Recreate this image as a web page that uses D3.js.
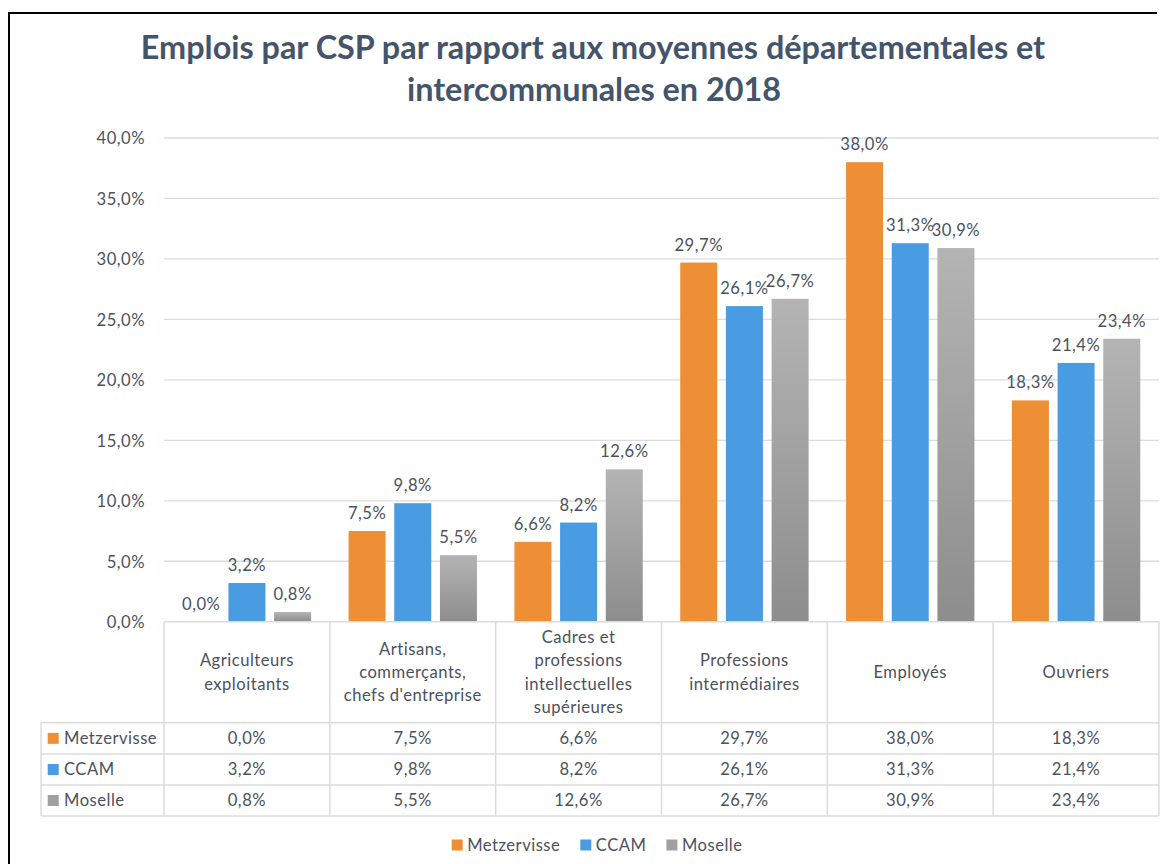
<!DOCTYPE html>
<html><head><meta charset="utf-8">
<script src="https://cdn.jsdelivr.net/npm/d3@7/dist/d3.min.js"></script>
<style>
html,body{margin:0;padding:0;background:#fff;}
svg{display:block;font-family:Lato,"Open Sans",sans-serif;}
</style></head>
<body><svg id="chart" width="1162" height="864"></svg>
<script>
const title = ["Emplois par CSP par rapport aux moyennes départementales et", "intercommunales en 2018"];
const categories = ["Agriculteurs\nexploitants", "Artisans,\ncommerçants,\nchefs d'entreprise", "Cadres et\nprofessions\nintellectuelles\nsupérieures", "Professions\nintermédiaires", "Employés", "Ouvriers"];
const seriesNames = ["Metzervisse", "CCAM", "Moselle"];
const metzervisse = [0.0, 7.5, 6.6, 29.7, 38.0, 18.3];
const ccam = [3.2, 9.8, 8.2, 26.1, 31.3, 21.4];
const moselle = [0.8, 5.5, 12.6, 26.7, 30.9, 23.4];
const yTicks = [0, 5, 10, 15, 20, 25, 30, 35, 40];

const seriesValues = [metzervisse, ccam, moselle];
const colors = ["#EE8F35", "#4A9CE2", "url(#greyGrad)"];
const swatch = ["#EE8F35", "#4A9CE2", "#A0A0A0"];
const textCol = "#4a525e";
const fsz = 16.6;
const ls = 0.5;

const loc = d3.formatLocale({decimal: ",", thousands: " ", grouping: [3], currency: ["", "€"]});
const fmt = v => loc.format(".1f")(v) + "%";

const svg = d3.select("#chart");
const defs = svg.append("defs");
const gr = defs.append("linearGradient").attr("id", "greyGrad").attr("x1", 0).attr("y1", 0).attr("x2", 0).attr("y2", 1);
gr.append("stop").attr("offset", "0%").attr("stop-color", "#B4B4B4");
gr.append("stop").attr("offset", "100%").attr("stop-color", "#8D8D8D");

// outer frame (partially visible)
svg.append("path").attr("d", "M9,864 L9,13 L1157,13").attr("fill", "none").attr("stroke", "#000").attr("stroke-width", 2);

// title
const tl = svg.append("g").attr("font-weight", 700).attr("fill", "#44546A").attr("text-anchor", "middle");
const t1 = tl.append("text").attr("x", 593).attr("y", 59).attr("font-size", 30).text(title[0]);
const w1 = t1.node().getComputedTextLength();
const tfs = 30 * 905 / w1;
t1.attr("font-size", tfs);
tl.append("text").attr("x", 594).attr("y", 101).attr("font-size", tfs).text(title[1]);

const plotLeft = 164, plotRight = 1159, plotTop = 138, plotBase = 621.7;
const y = d3.scaleLinear().domain([0, 40]).range([plotBase, plotTop]);
const x0 = d3.scaleBand().domain(categories).range([plotLeft, plotRight]).padding(0);
const x1 = d3.scaleBand().domain(seriesNames).range([0, x0.bandwidth()]).paddingInner(0.19).paddingOuter(0.41);

// gridlines
svg.append("g").selectAll("line").data(yTicks.filter(d => d > 0)).join("line")
  .attr("x1", plotLeft).attr("x2", plotRight).attr("y1", d => y(d)).attr("y2", d => y(d))
  .attr("stroke", "#dcdcdc").attr("stroke-width", 1.3);

// y axis labels
const yAxis = d3.axisLeft(y).tickValues(yTicks).tickFormat(fmt).tickSize(0).tickPadding(0);
const ya = svg.append("g").attr("transform", "translate(145,0)").call(yAxis);
ya.select(".domain").remove();
ya.selectAll("text").attr("font-family", "Lato").attr("font-size", fsz).attr("fill", textCol).attr("letter-spacing", ls).attr("dy", "0.35em");

// bars
const bars = svg.append("g");
seriesNames.forEach((s, si) => {
  bars.append("g").selectAll("rect").data(seriesValues[si]).join("rect")
    .attr("x", (d, i) => x0(categories[i]) + x1(s))
    .attr("width", x1.bandwidth())
    .attr("y", d => y(d))
    .attr("height", d => plotBase - y(d))
    .attr("fill", colors[si]);
  bars.append("g").selectAll("text").data(seriesValues[si]).join("text")
    .attr("x", (d, i) => x0(categories[i]) + x1(s) + x1.bandwidth() / 2)
    .attr("y", d => y(d) - 12)
    .attr("text-anchor", "middle").attr("font-size", fsz).attr("letter-spacing", ls)
    .attr("fill", textCol).text(d => fmt(d));
});

// data table
const rowTops = [722.7, 754, 785, 816];
const tableLeft = 41;
const tg = svg.append("g").attr("stroke", "#dcdcdc").attr("stroke-width", 1.5);
tg.append("line").attr("x1", plotLeft).attr("x2", plotRight).attr("y1", plotBase).attr("y2", plotBase);
rowTops.forEach(r => tg.append("line").attr("x1", tableLeft).attr("x2", plotRight).attr("y1", r).attr("y2", r));
tg.append("line").attr("x1", tableLeft).attr("x2", tableLeft).attr("y1", rowTops[0]).attr("y2", rowTops[3]);
categories.forEach(c => tg.append("line").attr("x1", x0(c)).attr("x2", x0(c)).attr("y1", plotBase).attr("y2", rowTops[3]));
tg.append("line").attr("x1", plotRight).attr("x2", plotRight).attr("y1", plotBase).attr("y2", rowTops[3]);

// header labels
const hg = svg.append("g").attr("font-size", fsz).attr("fill", textCol).attr("text-anchor", "middle").attr("letter-spacing", ls);
const lh = 23.3;
categories.forEach(c => {
  const lines = c.split("\n");
  const cy = (plotBase + rowTops[0]) / 2;
  const t = hg.append("text").attr("x", x0(c) + x0.bandwidth() / 2);
  lines.forEach((l, i) => {
    t.append("tspan").attr("x", x0(c) + x0.bandwidth() / 2)
      .attr("y", cy + (i - (lines.length - 1) / 2) * lh).attr("dy", "0.35em").text(l);
  });
});

// table rows
seriesNames.forEach((s, si) => {
  const cy = (rowTops[si] + rowTops[si + 1]) / 2;
  svg.append("rect").attr("x", 47.7).attr("y", cy - 5.5).attr("width", 11).attr("height", 11).attr("fill", swatch[si]);
  svg.append("text").attr("x", 64).attr("y", cy).attr("dy", "0.35em").attr("font-size", fsz).attr("letter-spacing", ls)
    .attr("fill", textCol).text(s);
  svg.append("g").selectAll("text").data(seriesValues[si]).join("text")
    .attr("x", (d, i) => x0(categories[i]) + x0.bandwidth() / 2)
    .attr("y", cy).attr("dy", "0.35em").attr("text-anchor", "middle").attr("font-size", fsz).attr("letter-spacing", ls)
    .attr("fill", textCol).text(d => fmt(d));
});

// legend
const lg = svg.append("g");
let lx = 451.7;
const ly = 845;
seriesNames.forEach((s, si) => {
  lg.append("rect").attr("x", lx).attr("y", ly - 5.5).attr("width", 11).attr("height", 11).attr("fill", swatch[si]);
  const t = lg.append("text").attr("x", lx + 15.5).attr("y", ly).attr("dy", "0.35em").attr("font-size", fsz).attr("letter-spacing", ls)
    .attr("fill", textCol).text(s);
  lx += 15.5 + t.node().getComputedTextLength() + 20;
});
</script></body></html>
